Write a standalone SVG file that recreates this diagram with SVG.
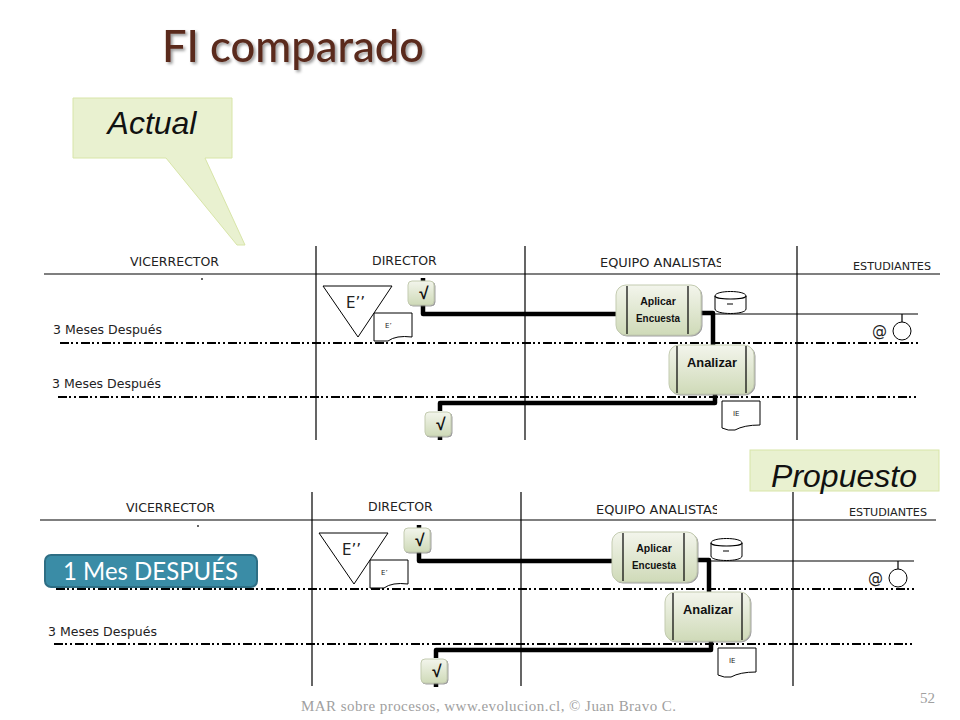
<svg xmlns="http://www.w3.org/2000/svg" width="960" height="720" viewBox="0 0 960 720">
<style>
.ln{stroke:#000;stroke-width:1.2;fill:none}
.dd{stroke:#000;stroke-width:2;fill:none;stroke-dasharray:9 2 2 3 2 3}
.th{stroke:#000;stroke-width:4.5;fill:none;stroke-linejoin:round}
.sh{fill:#fff;stroke:#000;stroke-width:1}
.box{fill:url(#g);stroke:#c3cbb0;stroke-width:1;filter:url(#bs)}
.hd{font-family:"DejaVu Sans",sans-serif;font-size:12.5px;fill:#222}
.s{font-family:"DejaVu Sans",sans-serif;fill:#222}
.t{font-family:"Liberation Sans",sans-serif;font-weight:700;fill:#111;text-anchor:middle}
.call{fill:#e9f1d0;stroke:#d8e5a8;stroke-width:1}
.ct{font-family:"Liberation Sans",sans-serif;font-style:italic;font-size:32px;fill:#111;text-anchor:middle}
</style>
<defs>
<linearGradient id="g" x1="0" y1="0" x2="0" y2="1"><stop offset="0" stop-color="#f3f5ec"/><stop offset="1" stop-color="#cfdab8"/></linearGradient>
<filter id="ts" x="-5%" y="-20%" width="110%" height="150%"><feDropShadow dx="2" dy="2" stdDeviation="1.5" flood-color="#000" flood-opacity=".4"/></filter>
<filter id="bs" x="-10%" y="-10%" width="120%" height="120%"><feDropShadow dx="1" dy="1" stdDeviation=".6" flood-color="#777" flood-opacity=".7"/></filter>
<clipPath id="c1"><rect x="590" y="250" width="131" height="24"/></clipPath>
<clipPath id="c2"><rect x="586" y="496" width="131" height="24"/></clipPath>
</defs>
<rect width="960" height="720" fill="#fff"/>
<g id="title"><text x="162" y="62" font-family="Lato,sans-serif" font-size="44" font-weight="500" fill="#5a2a1e" filter="url(#ts)" textLength="262" lengthAdjust="spacingAndGlyphs">FI comparado</text></g>
<g id="callout-actual">
<path class="call" d="M73 98H232V158H205L245 245H237L166 158H73Z"/>
<text class="ct" x="152" y="134">Actual</text>
</g>
<g id="callout-propuesto">
<rect class="call" x="750" y="450" width="189" height="41"/>
<text class="ct" x="844" y="487">Propuesto</text>
</g>

<g id="connectors">
<g id="top-connectors">
<path class="ln" d="M44 274H940M316 246V440M525 246V440M797 246V440M202 278V280"/>
<path class="dd" d="M60 343H918M58 397H916"/>
<path class="ln" d="M715 314H918M902 314V322"/>
<path class="th" d="M423 278V281M423 305V314H617M700 313H713V345M440 436V440M440 411V403H715V388"/>
</g>
<g id="bottom-connectors">
<path class="ln" d="M40 520H936M312 492V686M521 492V686M793 492V686M198 525V527"/>
<path class="dd" d="M56 589H914M54 644H912"/>
<path class="ln" d="M711 561H914M898 561V569"/>
<path class="th" d="M419 525V528M419 552V561H613M696 560H709V592M436 683V687M436 658V650H711V635"/>
</g>
</g>

<g id="top-labels">
<text class="hd" x="130" y="266">VICERRECTOR</text>
<text class="hd" x="372" y="265">DIRECTOR</text>
<text class="hd" x="600" y="267" textLength="124" lengthAdjust="spacingAndGlyphs" clip-path="url(#c1)">EQUIPO ANALISTAS</text>
<text class="s" x="853" y="270" font-size="11" textLength="78" lengthAdjust="spacingAndGlyphs">ESTUDIANTES</text>
<text class="s" x="53" y="334" font-size="12.5">3 Meses Después</text>
<text class="s" x="52" y="388" font-size="12.5">3 Meses Después</text>
</g>
<g id="t-store-e2"><path class="sh" d="M323 286H392L358 337Z"/><text class="s" x="346" y="308" font-size="15">E’’</text></g>
<g id="t-doc-e1"><path class="sh" d="M374 313H412V337Q396 335 388 341H374Z"/><text class="s" x="385" y="328" font-size="7">E’</text></g>
<g id="t-check1"><rect class="box" x="408" y="281" width="26" height="24" rx="4"/><text class="t" x="424" y="299" font-size="17">√</text></g>
<g id="t-check2"><rect class="box" x="425" y="412" width="26" height="24" rx="4"/><text class="t" x="441" y="430" font-size="17">√</text></g>
<g id="t-aplicar"><rect class="box" x="616" y="285" width="85" height="50" rx="10"/><path class="ln" d="M627 286V334M688 286V334"/><text class="t" x="658" y="305" font-size="10.5">Aplicar</text><text class="t" x="658" y="322" font-size="10.5" textLength="44" lengthAdjust="spacingAndGlyphs">Encuesta</text></g>
<g id="t-analizar"><rect class="box" x="669" y="345" width="85" height="49" rx="10"/><path class="ln" d="M677 346V393M746 346V393"/><text class="t" x="712" y="367" font-size="12.5" textLength="50" lengthAdjust="spacingAndGlyphs">Analizar</text></g>
<g id="t-cylinder"><path class="sh" d="M715 296C715 290 746 290 746 296V309C746 315 715 315 715 309Z"/><path class="ln" d="M715 296C715 300 746 300 746 296M727 304H733"/></g>
<g id="t-at"><text class="s" x="872" y="336" font-size="15">@</text></g>
<g id="t-person"><ellipse class="sh" cx="902" cy="331" rx="9" ry="9"/></g>
<g id="t-doc-ie"><path class="sh" d="M722 401H760V425Q744 425 735 430Q728 431 722 428Z"/><text class="s" x="733" y="416" font-size="7">IE</text></g>

<g id="bottom-labels">
<text class="hd" x="126" y="512">VICERRECTOR</text>
<text class="hd" x="368" y="511">DIRECTOR</text>
<text class="hd" x="596" y="514" textLength="124" lengthAdjust="spacingAndGlyphs" clip-path="url(#c2)">EQUIPO ANALISTAS</text>
<text class="s" x="849" y="516" font-size="11" textLength="78" lengthAdjust="spacingAndGlyphs">ESTUDIANTES</text>
<text class="s" x="48" y="636" font-size="12.5">3 Meses Después</text>
</g>
<g id="b-store-e2"><path class="sh" d="M319 533H388L354 584Z"/><text class="s" x="342" y="555" font-size="15">E’’</text></g>
<g id="b-doc-e1"><path class="sh" d="M370 560H408V584Q392 582 384 588H370Z"/><text class="s" x="381" y="575" font-size="7">E’</text></g>
<g id="b-check1"><rect class="box" x="404" y="528" width="26" height="24" rx="4"/><text class="t" x="420" y="546" font-size="17">√</text></g>
<g id="b-check2"><rect class="box" x="421" y="659" width="26" height="24" rx="4"/><text class="t" x="437" y="677" font-size="17">√</text></g>
<g id="b-aplicar"><rect class="box" x="612" y="532" width="85" height="50" rx="10"/><path class="ln" d="M623 533V581M684 533V581"/><text class="t" x="654" y="552" font-size="10.5">Aplicar</text><text class="t" x="654" y="569" font-size="10.5" textLength="44" lengthAdjust="spacingAndGlyphs">Encuesta</text></g>
<g id="b-analizar"><rect class="box" x="665" y="592" width="85" height="49" rx="10"/><path class="ln" d="M673 593V640M742 593V640"/><text class="t" x="708" y="614" font-size="12.5" textLength="50" lengthAdjust="spacingAndGlyphs">Analizar</text></g>
<g id="b-cylinder"><path class="sh" d="M711 543C711 537 742 537 742 543V556C742 562 711 562 711 556Z"/><path class="ln" d="M711 543C711 547 742 547 742 543M723 551H729"/></g>
<g id="b-at"><text class="s" x="868" y="583" font-size="15">@</text></g>
<g id="b-person"><ellipse class="sh" cx="898" cy="578" rx="9" ry="9"/></g>
<g id="b-doc-ie"><path class="sh" d="M718 648H756V672Q740 672 731 677Q724 678 718 675Z"/><text class="s" x="729" y="663" font-size="7">IE</text></g>

<g id="badge"><rect x="45" y="555" width="212" height="32" rx="6" fill="#3a8ca6" stroke="#2e6e84" stroke-width="2"/><text x="63" y="580" font-family="Lato,sans-serif" font-size="25" fill="#fff" textLength="175" lengthAdjust="spacingAndGlyphs">1 Mes DESPUÉS</text></g>
<g id="footer">
<text x="301" y="711" font-family="Liberation Serif,serif" font-size="15" fill="#a0a0a0" textLength="375" lengthAdjust="spacing">MAR sobre procesos, www.evolucion.cl, © Juan Bravo C.</text>
<text x="920" y="703" font-family="Liberation Serif,serif" font-size="15" fill="#a0a0a0">52</text>
</g>
</svg>
